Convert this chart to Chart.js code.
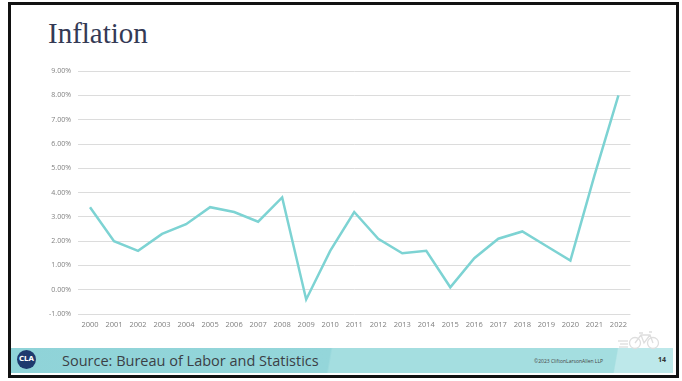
<!DOCTYPE html>
<html><head><meta charset="utf-8">
<script src="https://cdn.jsdelivr.net/npm/chart.js@4/dist/chart.umd.min.js"></script>
<style>
html,body{margin:0;padding:0;background:#fff;width:682px;height:381px;overflow:hidden;}
#frame{position:absolute;left:8px;top:2px;width:665px;height:370px;border:3px solid #111;box-sizing:content-box;background:#fff;}
#title{position:absolute;left:48px;top:16px;font-family:"Liberation Serif","DejaVu Serif",serif;font-size:29px;color:#343a55;line-height:34px;}
#wrap{position:absolute;left:40px;top:60px;width:593px;height:275px;}
#footer{position:absolute;left:11px;top:348px;width:662px;height:25px;background:linear-gradient(100deg,#8fd3d8 0%,#94d6da 48%,#a4dee0 48.3%,#a4dee0 91%,#bde8ea 91.2%,#bde8ea 100%);}
#src{position:absolute;left:62px;top:351px;font-family:"Open Sans",sans-serif;font-size:14.5px;color:#3b3f46;}
#copy{position:absolute;left:534px;top:358px;font-family:"Open Sans",sans-serif;font-size:5px;color:#444;}
#pg{position:absolute;left:658px;top:355px;font-family:"Open Sans",sans-serif;font-size:7px;font-weight:bold;color:#333;}
#logo{position:absolute;left:17px;top:350px;width:19px;height:19px;border-radius:50%;background:#1e3a6e;color:#fff;font-family:"DejaVu Sans",sans-serif;font-size:7px;line-height:19px;text-align:center;font-weight:bold;}
#bike{position:absolute;left:616px;top:330px;}
</style></head>
<body>
<div id="frame"></div>
<div id="title">Inflation</div>
<div id="wrap"><canvas id="c" width="593" height="275"></canvas></div>
<div id="footer"></div>
<div id="logo">CLA</div>
<div id="src">Source: Bureau of Labor and Statistics</div>
<div id="copy">©2023 CliftonLarsonAllen LLP</div>
<div id="pg">14</div>
<svg id="bike" width="50" height="20" viewBox="0 0 50 20">
<g fill="none" stroke="#dedede" stroke-width="1.3">
<line x1="2" y1="11" x2="12" y2="11"/><line x1="4" y1="14" x2="12" y2="14"/><line x1="3" y1="17" x2="12" y2="17"/>
<circle cx="19" cy="13" r="5.5"/><circle cx="37" cy="13" r="5.5"/>
<path d="M19 13 L25 5 L34 5 L37 13 M25 5 L28 13 L34 5 M23 3 L27 3 M33 2 L36 2"/>
</g></svg>
<script>
const years = ["2000","2001","2002","2003","2004","2005","2006","2007","2008","2009","2010","2011","2012","2013","2014","2015","2016","2017","2018","2019","2020","2021","2022"];
const inflation = [3.4,2.0,1.6,2.3,2.7,3.4,3.2,2.8,3.8,-0.4,1.6,3.2,2.1,1.5,1.6,0.1,1.3,2.1,2.4,1.8,1.2,4.7,8.0];
const yMin = -1, yMax = 9, yStep = 1;

new Chart(document.getElementById('c'), {
  type: 'line',
  data: { labels: years, datasets: [{ data: inflation, borderColor: '#7dd3d3', borderWidth: 2.5, pointRadius: 0, tension: 0, fill: false }] },
  options: {
    responsive: false, animation: false,
    layout: { padding: { top: 11, right: 0, bottom: 0, left: 0 } },
    plugins: { legend: { display: false }, tooltip: { enabled: false } },
    scales: {
      x: {
        offset: true,
        grid: { display: false, drawTicks: false },
        border: { display: false },
        ticks: { color: '#7f7f7f', font: { family: 'Open Sans', size: 7.5 }, padding: 6, maxRotation: 0, autoSkip: false },
        afterFit: s => { s.height = 21; }
      },
      y: {
        min: yMin, max: yMax,
        grid: { color: '#dcdcdc', lineWidth: 1, drawTicks: false },
        border: { display: false },
        ticks: { stepSize: yStep, color: '#7f7f7f', font: { family: 'Open Sans', size: 7 }, padding: 7, callback: v => v.toFixed(2) + '%' },
        afterFit: s => { s.width = 38; }
      }
    }
  }
});
</script>
</body></html>
